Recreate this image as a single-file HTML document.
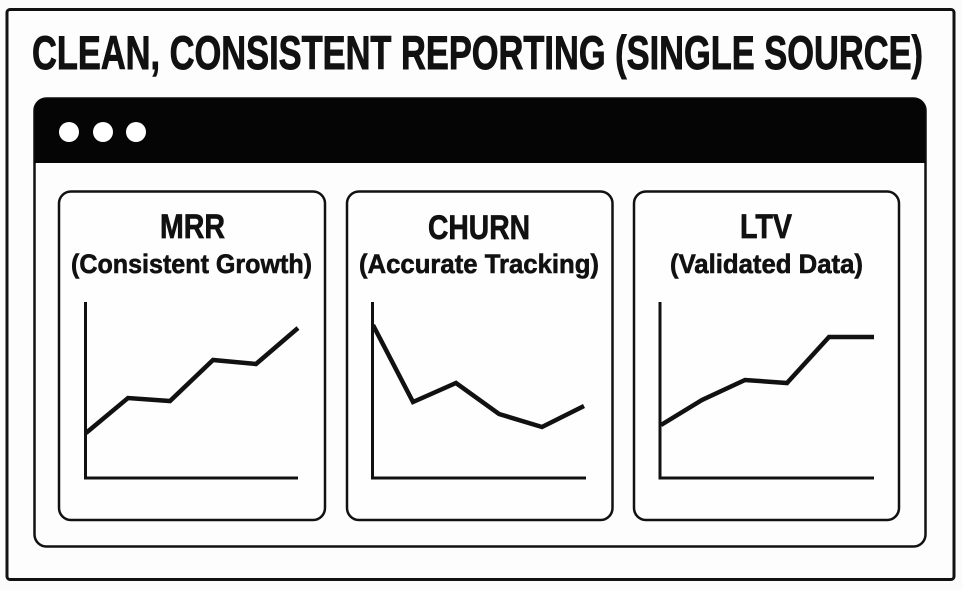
<!DOCTYPE html>
<html>
<head>
<meta charset="utf-8">
<style>
  html, body { margin: 0; padding: 0; background: #fbfbfb; }
  svg { display: block; }
  text { font-family: "Liberation Sans", "DejaVu Sans", sans-serif; font-weight: bold; fill: #111; stroke: #111; }
</style>
</head>
<body>
<svg width="962" height="590" viewBox="0 0 962 590" xmlns="http://www.w3.org/2000/svg">
  <rect x="0" y="0" width="962" height="590" fill="#fbfbfb"/>
  <!-- outer border -->
  <rect x="7" y="9.5" width="947" height="570" rx="3" fill="#fdfdfd" stroke="#111" stroke-width="3"/>
  <!-- title -->
  <text x="32" y="69" font-size="47" stroke-width="0.9" textLength="891" lengthAdjust="spacingAndGlyphs">CLEAN, CONSISTENT REPORTING (SINGLE SOURCE)</text>

  <!-- browser window -->
  <rect x="34.5" y="98.5" width="891" height="448" rx="12" fill="#fdfdfd" stroke="#111" stroke-width="2.5"/>
  <path d="M34.5 163 L34.5 110.5 Q34.5 98.5 46.5 98.5 L913.5 98.5 Q925.5 98.5 925.5 110.5 L925.5 163 Z" fill="#050505"/>
  <circle cx="69" cy="132" r="10" fill="#fff"/>
  <circle cx="103" cy="132" r="10" fill="#fff"/>
  <circle cx="136" cy="132" r="10" fill="#fff"/>

  <!-- panels -->
  <rect x="59" y="191.5" width="266" height="328.5" rx="12" fill="#fefefe" stroke="#111" stroke-width="2.5"/>
  <rect x="347" y="191.5" width="265.5" height="328.5" rx="12" fill="#fefefe" stroke="#111" stroke-width="2.5"/>
  <rect x="634" y="191.5" width="265" height="328.5" rx="12" fill="#fefefe" stroke="#111" stroke-width="2.5"/>

  <!-- panel titles -->
  <text x="160" y="238" font-size="34" stroke-width="0.7" textLength="65" lengthAdjust="spacingAndGlyphs">MRR</text>
  <text x="71" y="273" font-size="27" stroke-width="0.6" textLength="241" lengthAdjust="spacingAndGlyphs">(Consistent Growth)</text>

  <text x="428" y="239" font-size="34" stroke-width="0.7" textLength="102" lengthAdjust="spacingAndGlyphs">CHURN</text>
  <text x="359" y="273" font-size="27" stroke-width="0.6" textLength="240" lengthAdjust="spacingAndGlyphs">(Accurate Tracking)</text>

  <text x="740" y="238" font-size="34" stroke-width="0.7" textLength="52" lengthAdjust="spacingAndGlyphs">LTV</text>
  <text x="670" y="273" font-size="27" stroke-width="0.6" textLength="193" lengthAdjust="spacingAndGlyphs">(Validated Data)</text>

  <!-- axes -->
  <g fill="none" stroke="#111" stroke-width="3" stroke-linecap="butt" stroke-linejoin="miter">
    <path d="M85.5 302 L85.5 478 L298 478"/>
    <path d="M372.5 302 L372.5 478 L586 478"/>
    <path d="M660 302 L660 478 L874 478"/>
  </g>

  <!-- data lines -->
  <g fill="none" stroke="#111" stroke-width="4.5" stroke-linejoin="miter" stroke-linecap="butt">
    <polyline points="86,433 128,398 170,401 213,360 256,364 298,328"/>
    <polyline points="373,325 413,402 456,383 499,414 542,427 584,406"/>
    <polyline points="661,425 702,400 745,380 787,383 829,337 874,337"/>
  </g>
</svg>
</body>
</html>
